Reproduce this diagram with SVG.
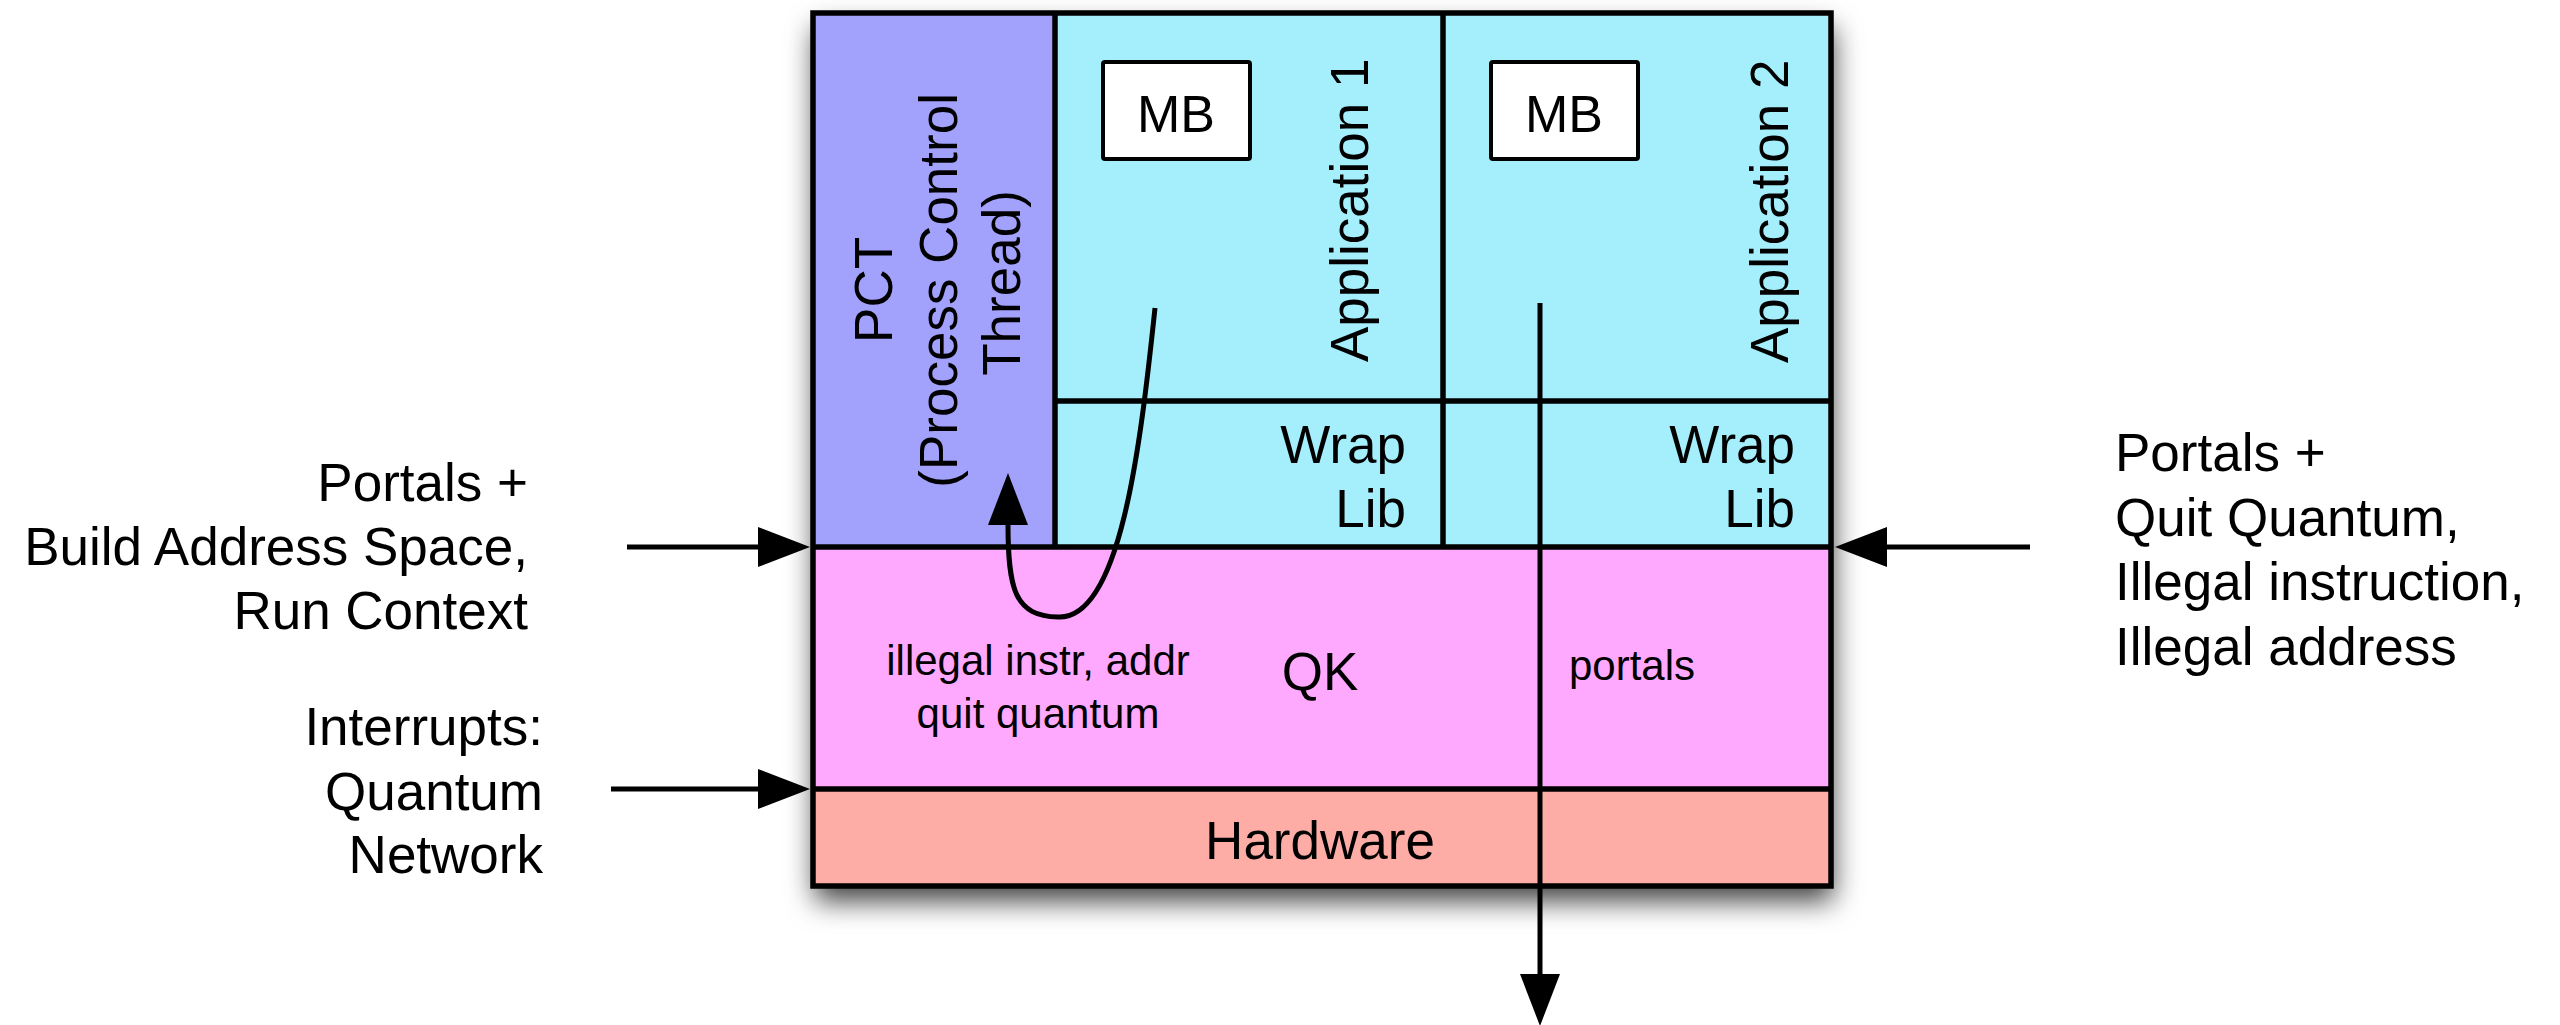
<svg xmlns="http://www.w3.org/2000/svg" width="2560" height="1025" viewBox="0 0 2560 1025">
  <defs>
    <style>
      text { font-family: "Liberation Sans", Arial, Helvetica, sans-serif; fill: #000; }
      .big { font-size: 53px; }
      .mb { font-size: 52px; }
      .small { font-size: 42px; }
      .edge { stroke: #000; stroke-width: 5.5; fill: none; }
      .conn { stroke: #000; stroke-width: 5; fill: none; }
    </style>
    <filter id="shadow" x="-10%" y="-10%" width="120%" height="125%">
      <feDropShadow dx="2" dy="15" stdDeviation="14" flood-color="#000" flood-opacity="0.75"/>
    </filter>
    <marker id="head" viewBox="0 0 52 40" refX="1" refY="20" markerWidth="52" markerHeight="40" markerUnits="userSpaceOnUse" orient="auto">
      <path d="M0,0 L52,20 L0,40 Z" fill="#000"/>
    </marker>
  </defs>

  <rect width="2560" height="1025" fill="#fff"/>

  <!-- outer frame with drop shadow -->
  <rect x="813" y="13" width="1018" height="873" fill="#a5effd" filter="url(#shadow)"/>

  <!-- PCT column -->
  <g id="pct">
    <rect x="813" y="13" width="242" height="534" fill="#a2a2fd"/>
    <text class="big" transform="rotate(-90)" text-anchor="middle">
      <tspan x="-283" y="892">PCT</tspan>
      <tspan x="-283" y="957">(Process Control</tspan>
      <tspan x="-283" y="1020">Thread)</tspan>
    </text>
  </g>

  <!-- Application 1 -->
  <g id="app1">
    <rect x="1055" y="13" width="388" height="388" fill="#a5effd"/>
    <text class="big" transform="rotate(-90)" x="-362" y="1368">Application 1</text>
  </g>
  <g id="mb1">
    <rect x="1103" y="62" width="147" height="97" rx="2" fill="#fff" stroke="#000" stroke-width="4"/>
    <text class="mb" x="1176" y="132" text-anchor="middle">MB</text>
  </g>
  <g id="wrap1">
    <rect x="1055" y="401" width="388" height="146" fill="#a5effd"/>
    <text class="big" text-anchor="end"><tspan x="1406" y="463">Wrap</tspan><tspan x="1406" y="527">Lib</tspan></text>
  </g>

  <!-- Application 2 -->
  <g id="app2">
    <rect x="1443" y="13" width="388" height="388" fill="#a5effd"/>
    <text class="big" transform="rotate(-90)" x="-363" y="1788">Application 2</text>
  </g>
  <g id="mb2">
    <rect x="1491" y="62" width="147" height="97" rx="2" fill="#fff" stroke="#000" stroke-width="4"/>
    <text class="mb" x="1564" y="132" text-anchor="middle">MB</text>
  </g>
  <g id="wrap2">
    <rect x="1443" y="401" width="388" height="146" fill="#a5effd"/>
    <text class="big" text-anchor="end"><tspan x="1795" y="463">Wrap</tspan><tspan x="1795" y="527">Lib</tspan></text>
  </g>

  <!-- Quantum kernel -->
  <g id="qk">
    <rect x="813" y="547" width="1018" height="242" fill="#fea9fe"/>
    <text class="big" x="1320" y="690" text-anchor="middle">QK</text>
    <text class="small" text-anchor="middle"><tspan x="1038" y="675">illegal instr, addr</tspan><tspan x="1038" y="728">quit quantum</tspan></text>
    <text class="small" x="1569" y="680">portals</text>
  </g>

  <!-- Hardware -->
  <g id="hardware">
    <rect x="813" y="789" width="1018" height="97" fill="#feaca6"/>
    <text class="big" x="1320" y="859" text-anchor="middle">Hardware</text>
  </g>

  <!-- cell borders -->
  <g id="borders">
    <line class="edge" x1="1055" y1="13" x2="1055" y2="547"/>
    <line class="edge" x1="1443" y1="13" x2="1443" y2="547"/>
    <line class="edge" x1="1055" y1="401" x2="1831" y2="401"/>
    <line class="edge" x1="813" y1="547" x2="1831" y2="547"/>
    <line class="edge" x1="813" y1="789" x2="1831" y2="789"/>
    <rect class="edge" x="813" y="13" width="1018" height="873"/>
  </g>

  <!-- side labels -->
  <g id="label-left-top">
    <text class="big" text-anchor="end"><tspan x="528" y="501">Portals +</tspan><tspan x="528" y="565">Build Address Space,</tspan><tspan x="528" y="629">Run Context</tspan></text>
  </g>
  <g id="label-left-bottom">
    <text class="big" text-anchor="end"><tspan x="543" y="745">Interrupts:</tspan><tspan x="543" y="810">Quantum</tspan><tspan x="543" y="873">Network</tspan></text>
  </g>
  <g id="label-right">
    <text class="big"><tspan x="2115" y="471">Portals +</tspan><tspan x="2115" y="536">Quit Quantum,</tspan><tspan x="2115" y="600">Illegal instruction,</tspan><tspan x="2115" y="665">Illegal address</tspan></text>
  </g>

  <!-- connectors -->
  <g id="connectors">
    <line class="conn" x1="627" y1="547" x2="759" y2="547" marker-end="url(#head)"/>
    <line class="conn" x1="611" y1="789" x2="759" y2="789" marker-end="url(#head)"/>
    <line class="conn" x1="2030" y1="547" x2="1886" y2="547" marker-end="url(#head)"/>
    <line class="conn" x1="1540" y1="303" x2="1540" y2="975" marker-end="url(#head)"/>
    <path class="conn" d="M1155,308 C1140,450 1120,620 1058,617 C1015,616 1008,590 1008,524" marker-end="url(#head)"/>
  </g>
</svg>
